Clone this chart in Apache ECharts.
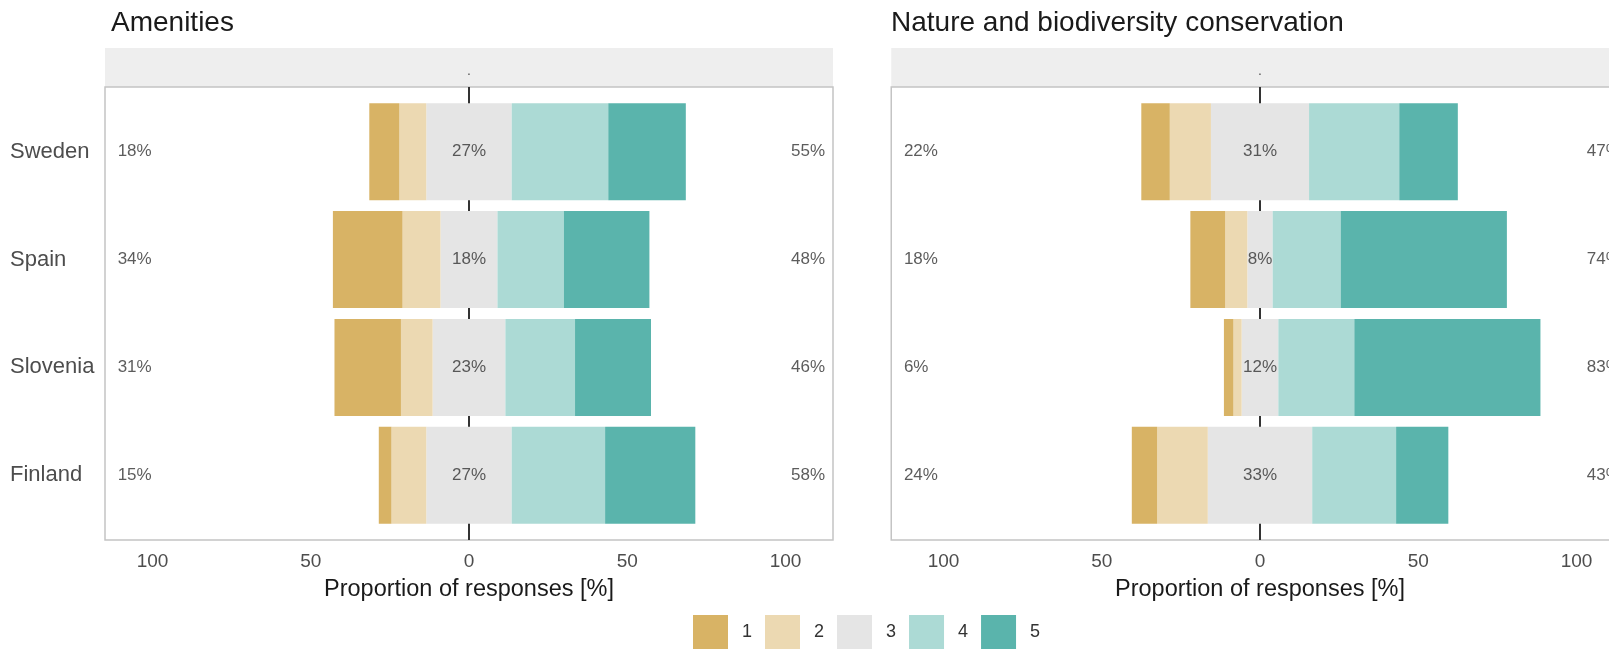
<!DOCTYPE html>
<html>
<head>
<meta charset="utf-8">
<script src="https://cdn.jsdelivr.net/npm/echarts@6/dist/echarts.min.js"></script>
<style>
  html, body { margin: 0; padding: 0; background: #fff; }
  #chart { width: 1609px; height: 650px; }
</style>
</head>
<body>
<div id="chart"></div>
<script>
// Countries (top to bottom) and response levels
const countries = ['Sweden', 'Spain', 'Slovenia', 'Finland'];
const levels = ['1', '2', '3', '4', '5'];
const panelTitles = ['Amenities', 'Nature and biodiversity conservation'];
const tickValues = [-100, -50, 0, 50, 100];

// Share of responses (%) per level, one entry per country
const amen1 = [9.5, 22, 21, 4];
const amen2 = [8.5, 12, 10, 11];
const amen3 = [27, 18, 23, 27];
const amen4 = [30.5, 21, 22, 29.5];
const amen5 = [24.5, 27, 24, 28.5];

const nat1 = [9, 11, 3, 8];
const nat2 = [13, 7, 2.6, 16];
const nat3 = [31, 8, 11.6, 33];
const nat4 = [28.5, 21.5, 24, 26.5];
const nat5 = [18.5, 52.5, 58.8, 16.5];

const levelColors = ['#D8B365', '#ECD9B2', '#E5E5E5', '#ACDAD5', '#5AB4AC'];

const FONT = '"Liberation Sans", Arial, Helvetica, sans-serif';
const W = 1609, H = 650;
const PX_PER_UNIT = 728 / 230;
const STRIP_TOP = 48, PANEL_TOP = 87, PANEL_BOTTOM = 540;
const PANEL_H = PANEL_BOTTOM - PANEL_TOP;
const EXPAND = 0.6; // padding of the discrete axis, in category units
const unit = PANEL_H / (countries.length - 1 + 2 * EXPAND);
const inset = unit * (EXPAND - 0.5);

const panels = [
  { left: 105, half: 115, data: [amen1, amen2, amen3, amen4, amen5], showCountries: true },
  { left: 891, half: 116.5, data: [nat1, nat2, nat3, nat4, nat5], showCountries: false }
];

const grid = [], xAxis = [], yAxis = [], series = [], title = [], graphic = [];

panels.forEach((p, pi) => {
  const xMin = -p.half, xMax = p.half;
  const width = 2 * p.half * PX_PER_UNIT;
  // keep the zero position on a whole pixel so the split neutral segment shows no seam
  const zeroPx = Math.round(p.left + p.half * PX_PER_UNIT);
  const left = zeroPx - p.half * PX_PER_UNIT;
  const right = W - left - width;
  const gStrip = grid.length, gFrame = gStrip + 1, gBars = gStrip + 2;
  const common = { left: left, right: right, outerBoundsMode: 'none', containLabel: false };

  // strip above the panel
  grid.push(Object.assign({}, common, { top: STRIP_TOP, height: PANEL_TOP - STRIP_TOP,
    show: true, backgroundColor: '#eeeeee', borderWidth: 0 }));
  // panel frame
  grid.push(Object.assign({}, common, { top: PANEL_TOP, height: PANEL_H,
    show: true, backgroundColor: '#ffffff', borderColor: '#c4c4c4', borderWidth: 1.5 }));
  // bar area (inside the discrete-axis padding)
  grid.push(Object.assign({}, common, { top: PANEL_TOP + inset, height: PANEL_H - 2 * inset,
    show: false }));

  xAxis.push({ gridIndex: gStrip, type: 'value', min: xMin, max: xMax, show: false });
  yAxis.push({ gridIndex: gStrip, type: 'value', min: 0, max: 1, show: false });

  xAxis.push({
    gridIndex: gFrame, type: 'value', min: xMin, max: xMax,
    axisLine: { show: false }, axisTick: { show: false }, splitLine: { show: false },
    axisLabel: {
      customValues: tickValues, formatter: v => String(Math.abs(v)),
      fontFamily: FONT, fontSize: 19, color: '#4d4d4d', margin: 12
    },
    name: 'Proportion of responses [%]', nameLocation: 'middle', nameGap: 38,
    nameTextStyle: { fontFamily: FONT, fontSize: 23.5, color: '#1a1a1a' }
  });
  yAxis.push({ gridIndex: gFrame, type: 'value', min: 0, max: 1, show: false });

  xAxis.push({ gridIndex: gBars, type: 'value', min: xMin, max: xMax, show: false });
  yAxis.push({
    gridIndex: gBars, type: 'category', data: countries, inverse: true,
    axisLine: { show: false }, axisTick: { show: false }, splitLine: { show: false },
    axisLabel: {
      show: p.showCountries, align: 'left', margin: left - 10,
      fontFamily: FONT, fontSize: 22, color: '#4d4d4d'
    }
  });

  const xFrame = xAxis.length - 2, yFrame = yAxis.length - 2;
  const xBars = xAxis.length - 1, yBars = yAxis.length - 1;

  // vertical reference line at zero, behind the bars
  series.push({
    type: 'scatter', xAxisIndex: xFrame, yAxisIndex: yFrame, data: [[0, 0.5]],
    symbolSize: 0, silent: true, z: 1,
    markLine: {
      silent: true, symbol: ['none', 'none'], z: 1, label: { show: false },
      lineStyle: { color: '#333333', width: 2, type: 'solid' },
      data: [{ xAxis: 0 }]
    }
  });

  const d = p.data;
  const parts = [
    { lvl: 2, vals: d[2].map(v => -v / 2) },
    { lvl: 2, vals: d[2].map(v => v / 2) },
    { lvl: 1, vals: d[1].map(v => -v) },
    { lvl: 3, vals: d[3] },
    { lvl: 0, vals: d[0].map(v => -v) },
    { lvl: 4, vals: d[4] }
  ];
  parts.forEach(part => {
    series.push({
      type: 'bar', name: levels[part.lvl], stack: 'likert' + pi,
      xAxisIndex: xBars, yAxisIndex: yBars, data: part.vals,
      barWidth: '90%', itemStyle: { color: levelColors[part.lvl] },
      z: 2, silent: true
    });
  });

  // low / neutral / high percentages near the panel edges and at the centre
  const lowX = xMin + 4, highX = xMax - 2.5;
  const labelData = [];
  countries.forEach((c, i) => {
    const low = Math.round(d[0][i] + d[1][i]);
    const mid = Math.round(d[2][i]);
    const high = Math.round(d[3][i] + d[4][i]);
    labelData.push({ name: low + '%', value: [lowX, c], label: { align: 'left' } });
    labelData.push({ name: mid + '%', value: [0, c], label: { align: 'center' } });
    labelData.push({ name: high + '%', value: [highX, c], label: { align: 'right' } });
  });
  series.push({
    type: 'scatter', xAxisIndex: xBars, yAxisIndex: yBars, data: labelData,
    symbolSize: 0, silent: true, z: 3,
    label: { show: true, position: 'inside', formatter: '{b}',
      fontFamily: FONT, fontSize: 17, color: '#333333' }
  });

  title.push({
    text: panelTitles[pi], left: Math.round(left) + (pi === 0 ? 6 : 0), top: 9, padding: 0,
    textStyle: { fontFamily: FONT, fontSize: 28, fontWeight: 'normal', color: '#1a1a1a' }
  });

  // strip label
  graphic.push({
    type: 'text', x: zeroPx, y: 71, silent: true,
    style: { text: '.', align: 'center', verticalAlign: 'middle',
      fontFamily: FONT, fontSize: 14, fill: '#555555' }
  });
});

const chart = echarts.init(document.getElementById('chart'), null, { renderer: 'canvas' });
chart.setOption({
  animation: false,
  backgroundColor: '#ffffff',
  title: title,
  grid: grid,
  xAxis: xAxis,
  yAxis: yAxis,
  series: series,
  graphic: graphic,
  legend: {
    data: levels, left: 693, top: 615, orient: 'horizontal', padding: 0,
    itemWidth: 35, itemHeight: 34, itemGap: 13, icon: 'rect',
    selectedMode: false,
    textStyle: { fontFamily: FONT, fontSize: 18, color: '#333333', padding: [0, 0, 0, 9] }
  }
});
</script>
</body>
</html>
